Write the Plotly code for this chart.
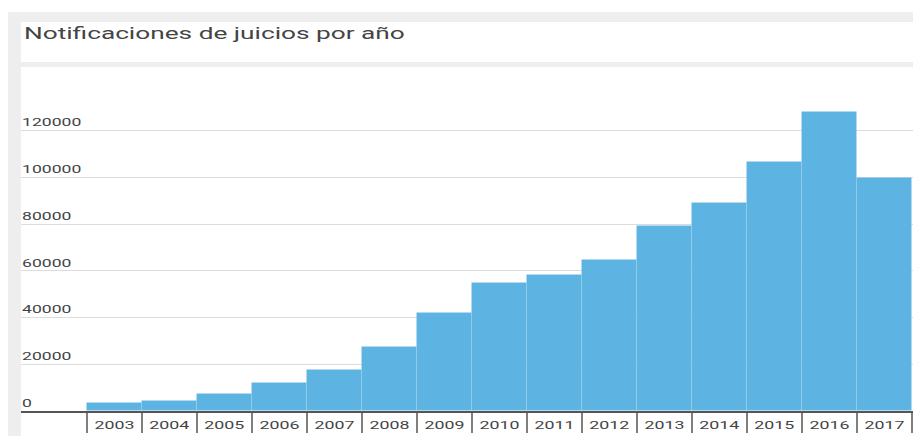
import plotly.graph_objects as go

# Notificaciones de juicios por año
years = ["2003", "2004", "2005", "2006", "2007", "2008", "2009", "2010",
         "2011", "2012", "2013", "2014", "2015", "2016", "2017"]
notificaciones = [3600, 4300, 7400, 12100, 17500, 27500, 41800, 54600,
                  58000, 64600, 79100, 89200, 106700, 128100, 99800]
y_ticks = [0, 20000, 40000, 60000, 80000, 100000, 120000]
title_text = "Notificaciones de juicios por año"

W, H = 913, 436
ML, MR, MT, MB = 21, 0, 67, 25
PW, PH = W - ML - MR, H - MT - MB


def px_x(px):
    return (px - ML) / PW


def px_y(py):
    return (H - MB - py) / PH


BAR = "#5DB4E2"
GREY_BG = "#eeeeee"
TEXT = "#444444"

fig = go.Figure(
    go.Bar(
        x=years,
        y=notificaciones,
        marker=dict(color=BAR, line=dict(color="rgba(255,255,255,0.07)", width=1)),
        hoverinfo="x+y",
    )
)


def grey_band(x0, x1, y0, y1):
    return dict(type="rect", xref="paper", yref="paper", layer="below",
                x0=px_x(x0), x1=px_x(x1), y0=px_y(y1), y1=px_y(y0),
                fillcolor=GREY_BG, line=dict(width=0))


shapes = [
    # grey page frame around the title card and the chart card
    grey_band(8, W, 12, 22),     # top band
    grey_band(8, 21, 12, H),     # left strip
    grey_band(21, W, 62, 67),    # gap between the two cards
]

# separators between the year labels, hanging below the baseline
for i in range(len(years) + 1):
    shapes.append(dict(type="line", xref="x", yref="paper",
                       x0=i - 0.5, x1=i - 0.5, y0=0, y1=-22 / PH,
                       line=dict(color="#555555", width=1.5)))

fig.update_layout(
    width=W, height=H,
    margin=dict(l=ML, r=MR, t=MT, b=MB, pad=0),
    paper_bgcolor="white",
    plot_bgcolor="white",
    bargap=0,
    showlegend=False,
    shapes=shapes,
    title=dict(
        text=title_text,
        font=dict(family="Roboto", size=16, color=TEXT),
        xref="paper", x=px_x(24), xanchor="left",
        yref="container", y=1 - 33 / H, yanchor="middle",
    ),
    xaxis=dict(
        type="category",
        range=[-1.7, len(years) - 0.5 + 1 / 55],
        showgrid=False,
        showline=True, linecolor="#555555", linewidth=1.5,
        ticks="",
        tickfont=dict(family="Roboto", size=11.5, color=TEXT),
        ticklabelstandoff=2,
        fixedrange=True,
    ),
    yaxis=dict(
        range=[0, (H - MB - MT) / 46.75 * 20000],
        tickvals=y_ticks,
        tickformat="d",
        ticklabelposition="inside top",
        tickfont=dict(family="Roboto", size=11.5, color=TEXT),
        showgrid=True, gridcolor="#dcdcdc", gridwidth=1,
        zeroline=False,
        showline=False,
        ticks="",
        fixedrange=True,
    ),
)

# keep the page free of scrollbars, then widen the lettering horizontally
# around each label's anchor point
post = """
document.documentElement.style.overflow = 'hidden';
document.body.style.overflow = 'hidden';
document.body.style.margin = '0';
var gd = document.getElementById('{plot_id}');
function widen(sel, s, mode, dx) {
  gd.querySelectorAll(sel).forEach(function (t) {
    var b = t.getBBox();
    var ax = mode === 'middle' ? b.x + b.width / 2 : b.x;
    var tr = t.getAttribute('transform') || '';
    t.setAttribute('transform', tr + ' translate(' + (ax + dx) + ',0) scale(' + s + ',1) translate(' + (-ax) + ',0)');
  });
}
widen('.gtitle', 1.64, 'start', 0);
widen('.ytick text', 1.53, 'start', -2);
widen('.xtick text', 1.55, 'middle', 0);
"""

fig.write_html("out.html", post_script=post, config={"displayModeBar": False})
